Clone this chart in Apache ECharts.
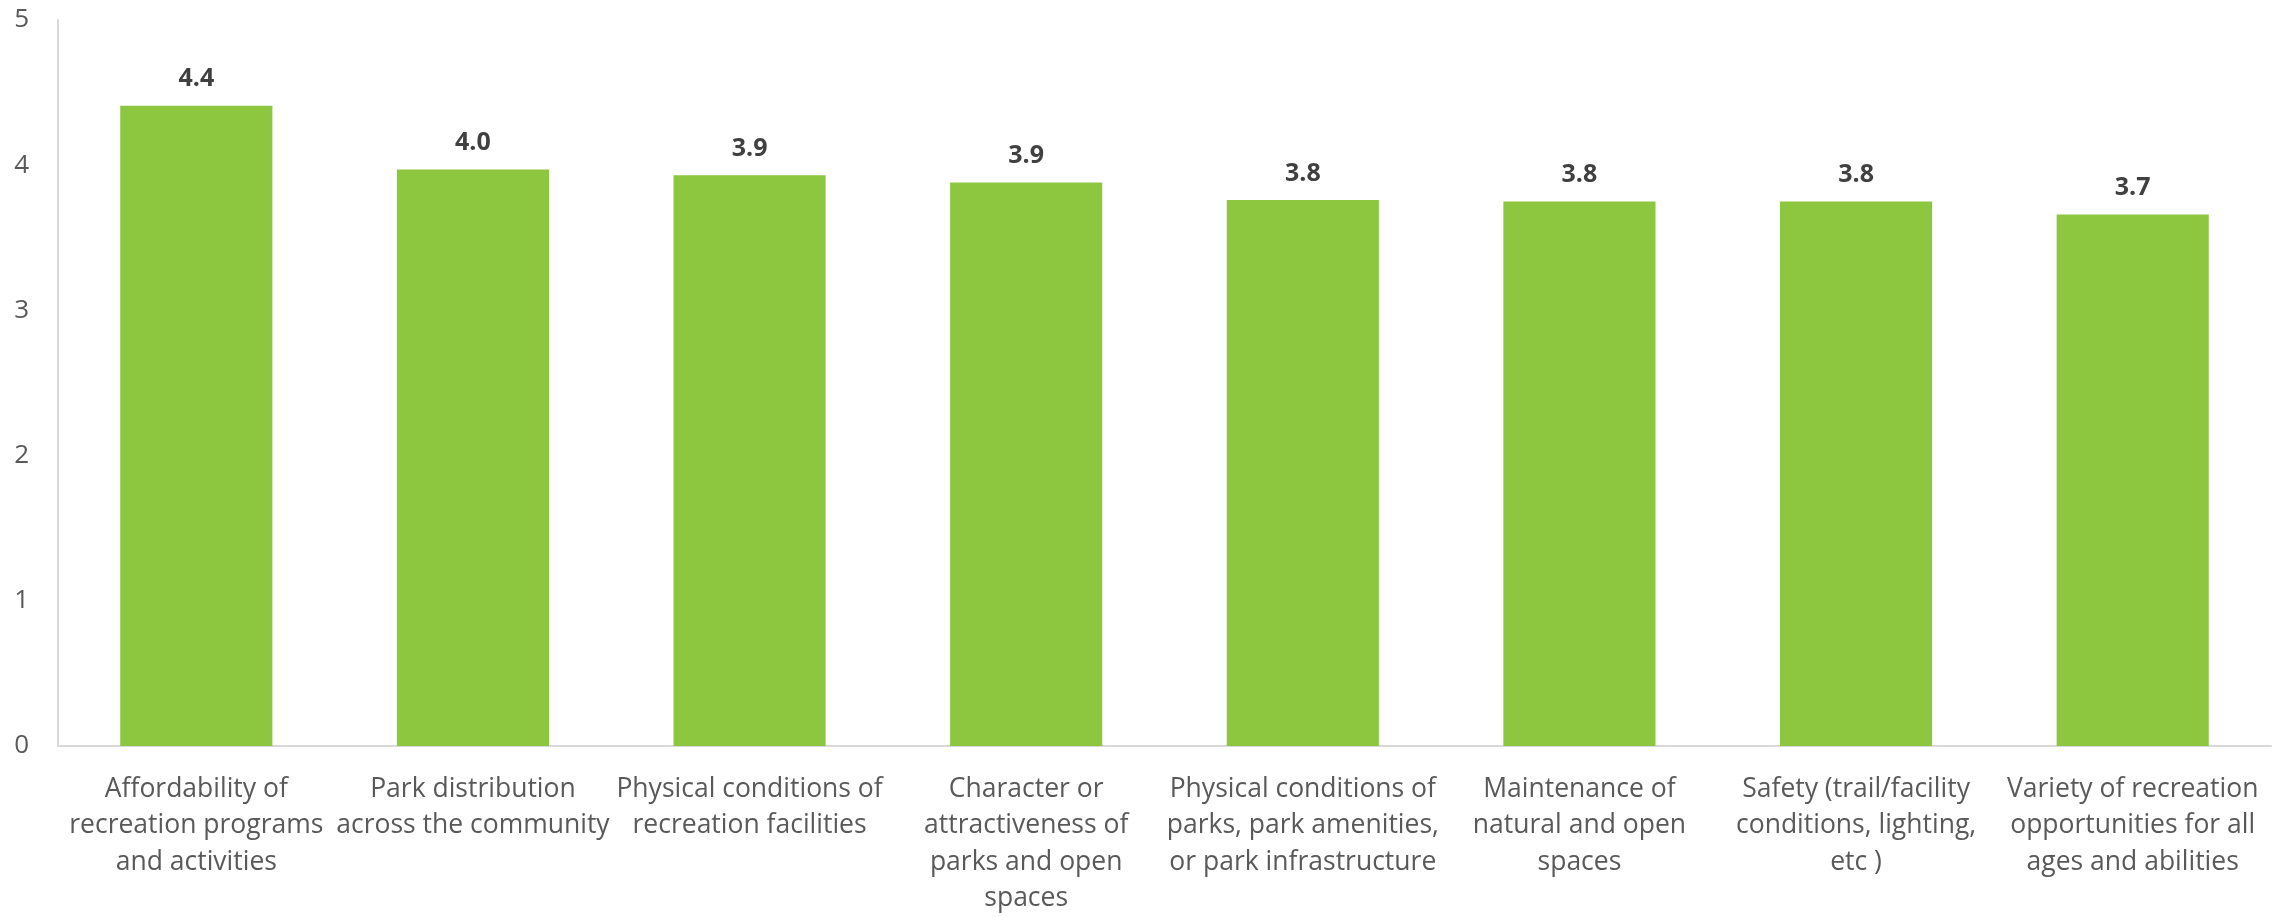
<!DOCTYPE html>
<html>
<head>
<meta charset="utf-8">
<title>Ratings</title>
<script src="https://cdn.jsdelivr.net/npm/echarts@6/dist/echarts.min.js"></script>
<style>
  html, body { margin: 0; padding: 0; background: #ffffff; }
  #chart { width: 2284px; height: 917px; }
</style>
</head>
<body>
<div id="chart"></div>
<script>
// Categories rated by respondents (line breaks as laid out under each bar)
const categories = [
  'Affordability of\nrecreation programs\nand activities',
  'Park distribution\nacross the community',
  'Physical conditions of\nrecreation facilities',
  'Character or\nattractiveness of\nparks and open\nspaces',
  'Physical conditions of\nparks, park amenities,\nor park infrastructure',
  'Maintenance of\nnatural and open\nspaces',
  'Safety (trail/facility\nconditions, lighting,\netc )',
  'Variety of recreation\nopportunities for all\nages and abilities'
];

// Average score per category
const scores = [4.41, 3.97, 3.93, 3.88, 3.76, 3.75, 3.75, 3.66];

// Value axis ticks
const yMin = 0;
const yMax = 5;
const yStep = 1;

const chart = echarts.init(document.getElementById('chart'), null, { renderer: 'canvas' });

chart.setOption({
  animation: false,
  backgroundColor: '#ffffff',
  grid: { left: 58, right: 13, top: 20, bottom: 163, containLabel: false },
  xAxis: {
    type: 'category',
    data: categories,
    axisLine: { show: true, lineStyle: { color: '#d9d9d9', width: 2 } },
    axisTick: { show: false },
    axisLabel: {
      interval: 0,
      margin: 25,
      color: '#595959',
      fontFamily: 'Open Sans',
      fontSize: 26.5,
      lineHeight: 36.5
    }
  },
  yAxis: {
    type: 'value',
    min: yMin,
    max: yMax,
    interval: yStep,
    axisLine: { show: true, lineStyle: { color: '#d9d9d9', width: 2 } },
    axisTick: { show: false },
    splitLine: { show: false },
    axisLabel: {
      margin: 29,
      color: '#595959',
      fontFamily: 'Open Sans',
      fontSize: 26
    }
  },
  series: [{
    type: 'bar',
    data: scores,
    barCategoryGap: '45%',
    itemStyle: { color: '#8dc63f' },
    label: {
      show: true,
      position: 'top',
      distance: 14,
      color: '#404040',
      fontFamily: 'Open Sans',
      fontWeight: 'bold',
      fontSize: 25,
      formatter: p => p.value.toFixed(1)
    }
  }]
});
</script>
</body>
</html>
